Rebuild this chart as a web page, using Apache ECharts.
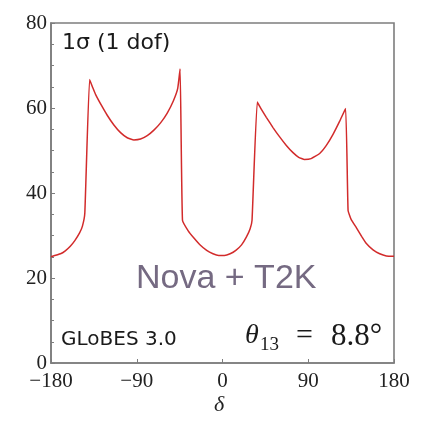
<!DOCTYPE html>
<html>
<head>
<meta charset="utf-8">
<script src="https://cdn.jsdelivr.net/npm/echarts@6/dist/echarts.min.js"></script>
<style>
  html, body { margin: 0; padding: 0; background: #fff; }
  #chart { width: 424px; height: 425px; }
</style>
</head>
<body>
<div id="chart"></div>
<script>
// CP phase delta (degrees) and the 1-sigma sensitivity curve
const delta = [-180, -170, -165, -160, -155, -150, -147, -144.5, -139.5, -136, -133, -127, -121, -114, -107, -100, -93, -86, -79, -72, -65, -58, -51.5, -47, -44.5,
  -42, -36, -30, -24, -16.6, -10, -4, 2, 8, 14, 20, 25, 29, 31,
  36.5, 41, 46, 53, 60, 67, 74, 80, 86, 93, 102, 109, 116, 123, 129.2,
  131.8, 135, 140.6, 146, 151, 158, 165, 172, 180];
const chi = [25.0, 25.7, 26.4, 27.4, 28.8, 30.6, 32.2, 35.3, 66.7, 64.7, 63.1, 60.6, 58.3, 56.0, 54.2, 53.0, 52.5, 52.7, 53.5, 54.8, 56.5, 58.8, 61.7, 64.6, 69.2,
  33.6, 31.1, 29.4, 27.9, 26.5, 25.7, 25.3, 25.3, 25.7, 26.5, 27.8, 29.6, 31.6, 33.6,
  61.4, 59.6, 57.8, 55.4, 53.2, 51.2, 49.5, 48.4, 47.9, 48.1, 49.3, 51.2, 53.8, 56.9, 59.9,
  35.9, 33.8, 31.8, 29.8, 28.1, 26.6, 25.7, 25.2, 25.1];

const xTicks = [-180, -90, 0, 90, 180];
const yTicks = [0, 20, 40, 60, 80];

const seriesData = delta.map((d, i) => [d, chi[i]]);

const chart = echarts.init(document.getElementById('chart'), null, { renderer: 'canvas' });
const frame = '#7d7d7d';
const labelFont = { fontFamily: 'Liberation Serif', fontSize: 21, color: '#222' };

chart.setOption({
  animation: false,
  backgroundColor: '#fff',
  grid: {
    left: 51, right: 30, top: 23, bottom: 62,
    show: true, borderColor: frame, borderWidth: 1.6, backgroundColor: 'transparent'
  },
  xAxis: {
    type: 'value', min: xTicks[0], max: xTicks[xTicks.length - 1], interval: 90,
    axisLine: { onZero: false, lineStyle: { color: frame, width: 1.6 } },
    axisTick: { inside: true, length: 4, lineStyle: { color: frame } },
    splitLine: { show: false },
    axisLabel: Object.assign({}, labelFont, {
      margin: 8,
      formatter: v => (v < 0 ? '\u2212' + Math.abs(v) : String(v))
    })
  },
  yAxis: {
    type: 'value', min: yTicks[0], max: yTicks[yTicks.length - 1], interval: 20,
    axisLine: { show: true, onZero: false, lineStyle: { color: frame, width: 1.6 } },
    axisTick: { show: true, inside: true, length: 4, lineStyle: { color: frame } },
    minorTick: { show: true, splitNumber: 4, length: 3, lineStyle: { color: frame } },
    splitLine: { show: false },
    axisLabel: Object.assign({}, labelFont, { margin: 4 })
  },
  series: [{
    type: 'line',
    data: seriesData,
    showSymbol: false,
    smooth: 0.12,
    lineStyle: { color: '#d22b2b', width: 1.5 }
  }],
  graphic: [
    { type: 'text', left: 62, top: 32,
      style: { text: '1\u03c3 (1 dof)', font: '22px "DejaVu Sans"', fill: '#1a1a1a' } },
    { type: 'text', left: 136, top: 262,
      style: { text: 'Nova + T2K', font: '34px "Liberation Sans"', fill: '#756a82' } },
    { type: 'text', left: 61, top: 330,
      style: { text: 'GLoBES 3.0', font: '20px "DejaVu Sans"', fill: '#1a1a1a' } },
    { type: 'text', left: 245, top: 322,
      style: { text: '\u03b8', font: 'italic 28px "Liberation Serif"', fill: '#1a1a1a' } },
    { type: 'text', left: 260, top: 336,
      style: { text: '13', font: '19px "Liberation Serif"', fill: '#1a1a1a' } },
    { type: 'text', left: 296, top: 321,
      style: { text: '=', font: '30px "Liberation Serif"', fill: '#1a1a1a' } },
    { type: 'text', left: 331, top: 321,
      style: { text: '8.8\u00b0', font: '31px "Liberation Serif"', fill: '#1a1a1a' } },
    { type: 'text', left: 214, top: 394,
      style: { text: '\u03b4', font: 'italic 22px "Liberation Serif"', fill: '#222' } }
  ]
});
</script>
</body>
</html>
